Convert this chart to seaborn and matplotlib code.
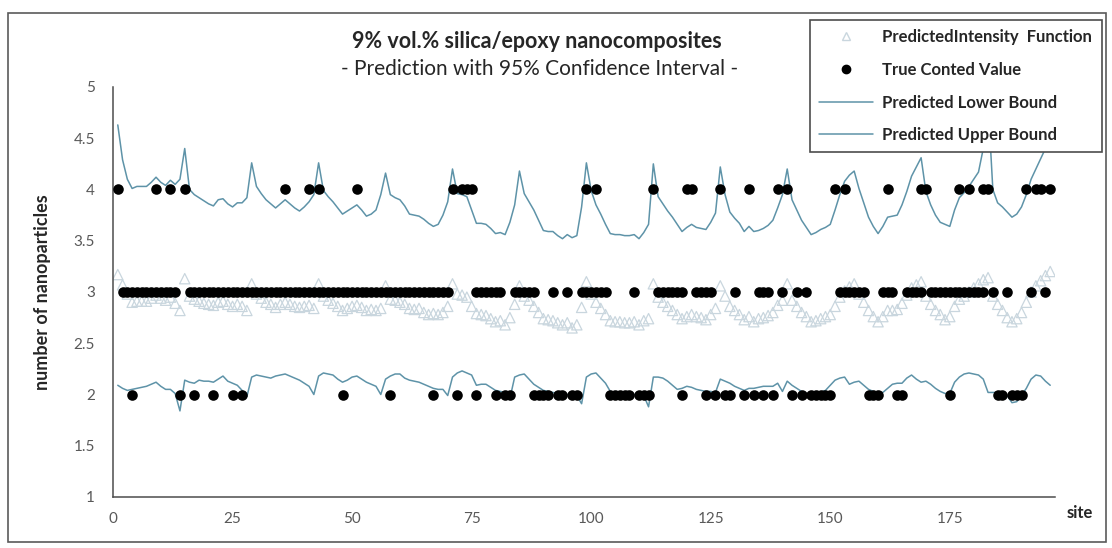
import numpy as np
import pandas as pd
import seaborn as sns
import matplotlib.pyplot as plt
from matplotlib.lines import Line2D
from matplotlib.patches import Rectangle

# ---- data ----
sites = list(range(1, 197))

upper_bound = [
    4.63, 4.29, 4.10, 4.01, 4.03, 4.03, 4.03, 4.07, 4.12, 4.07,
    4.04, 4.09, 4.05, 4.10, 4.40, 4.00, 3.95, 3.92, 3.89, 3.86,
    3.84, 3.90, 3.91, 3.86, 3.83, 3.87, 3.87, 3.92, 4.26, 4.03,
    3.96, 3.90, 3.86, 3.82, 3.86, 3.90, 3.86, 3.82, 3.79, 3.83,
    3.88, 3.95, 4.26, 3.99, 3.93, 3.88, 3.82, 3.76, 3.79, 3.82,
    3.85, 3.80, 3.74, 3.76, 3.80, 3.95, 4.16, 3.95, 3.92, 3.90,
    3.84, 3.76, 3.75, 3.74, 3.71, 3.67, 3.64, 3.66, 3.75, 3.88,
    4.20, 3.96, 3.95, 3.93, 3.80, 3.67, 3.67, 3.66, 3.62, 3.57,
    3.58, 3.56, 3.68, 3.85, 4.18, 3.96, 3.88, 3.80, 3.70, 3.60,
    3.59, 3.59, 3.55, 3.52, 3.56, 3.53, 3.55, 3.83, 4.26, 3.99,
    3.85, 3.76, 3.66, 3.57, 3.56, 3.56, 3.55, 3.55, 3.56, 3.52,
    3.58, 3.66, 4.25, 3.93, 3.86, 3.79, 3.73, 3.66, 3.59, 3.63,
    3.66, 3.63, 3.62, 3.61, 3.68, 3.77, 4.22, 3.95, 3.78, 3.72,
    3.67, 3.59, 3.64, 3.59, 3.60, 3.62, 3.65, 3.70, 3.82, 3.95,
    4.20, 3.90, 3.80, 3.70, 3.63, 3.56, 3.58, 3.61, 3.63, 3.66,
    3.80, 3.95, 4.08, 4.14, 4.18, 4.01, 3.87, 3.73, 3.64, 3.57,
    3.64, 3.73, 3.74, 3.75, 3.85, 3.98, 4.13, 4.22, 4.31, 3.98,
    3.85, 3.75, 3.68, 3.66, 3.64, 3.80, 3.92, 3.97, 4.03, 4.10,
    4.17, 4.40, 4.85, 4.00, 3.87, 3.83, 3.78, 3.73, 3.76, 3.83,
    3.95, 4.10, 4.20, 4.30, 4.40, 4.47,
]

lower_bound = [
    2.09, 2.06, 2.04, 2.05, 2.06, 2.07, 2.08, 2.10, 2.12, 2.08,
    2.05, 2.05, 2.01, 1.84, 2.14, 2.12, 2.11, 2.14, 2.13, 2.13,
    2.12, 2.15, 2.18, 2.13, 2.11, 2.09, 2.04, 1.98, 2.17, 2.19,
    2.18, 2.17, 2.16, 2.18, 2.19, 2.20, 2.18, 2.16, 2.14, 2.11,
    2.08, 2.00, 2.18, 2.21, 2.20, 2.19, 2.15, 2.12, 2.14, 2.17,
    2.18, 2.15, 2.12, 2.10, 2.08, 2.00, 2.15, 2.18, 2.20, 2.20,
    2.16, 2.14, 2.13, 2.12, 2.10, 2.08, 2.06, 2.05, 2.05, 1.99,
    2.17, 2.21, 2.23, 2.21, 2.19, 2.09, 2.10, 2.10, 2.07, 2.04,
    2.03, 2.02, 1.96, 2.17, 2.19, 2.20, 2.15, 2.10, 2.07, 2.04,
    2.03, 2.02, 2.01, 2.01, 2.00, 2.00, 1.99, 1.91, 2.17, 2.20,
    2.21, 2.16, 2.11, 2.03, 2.02, 2.02, 2.01, 2.00, 2.00, 2.00,
    1.99, 1.88, 2.17, 2.17, 2.16, 2.13, 2.09, 2.05, 2.06, 2.08,
    2.07, 2.05, 2.04, 2.03, 2.03, 2.02, 2.15, 2.13, 2.11, 2.08,
    2.06, 2.04, 2.06, 2.06, 2.07, 2.08, 2.08, 2.08, 2.11, 2.03,
    2.13, 2.09, 2.06, 2.03, 2.01, 2.00, 2.01, 2.02, 2.04, 2.09,
    2.14, 2.16, 2.17, 2.10, 2.12, 2.13, 2.09, 2.05, 2.03, 2.02,
    2.02, 2.06, 2.10, 2.11, 2.11, 2.16, 2.19, 2.15, 2.12, 2.13,
    2.10, 2.06, 2.03, 2.01, 2.01, 2.12, 2.17, 2.20, 2.21, 2.20,
    2.19, 2.15, 2.02, 2.02, 2.02, 2.01, 1.99, 1.92, 1.93, 1.99,
    2.06, 2.15, 2.19, 2.18, 2.13, 2.09,
]

predicted_intensity = [
    3.17, 3.07, 2.98, 2.90, 2.91, 2.91, 2.91, 2.94, 2.97, 2.94,
    2.92, 2.95, 2.89, 2.82, 3.13, 2.96, 2.93, 2.91, 2.89, 2.88,
    2.87, 2.90, 2.91, 2.88, 2.86, 2.88, 2.86, 2.82, 3.08, 2.98,
    2.94, 2.90, 2.88, 2.85, 2.88, 2.90, 2.88, 2.86, 2.85, 2.86,
    2.87, 2.84, 3.08, 2.96, 2.92, 2.89, 2.86, 2.82, 2.84, 2.86,
    2.87, 2.85, 2.82, 2.83, 2.82, 2.84, 3.06, 2.93, 2.92, 2.90,
    2.88, 2.84, 2.83, 2.84, 2.80, 2.78, 2.79, 2.78, 2.80, 2.86,
    3.08, 2.98, 2.97, 2.95, 2.86, 2.79, 2.78, 2.77, 2.74, 2.71,
    2.72, 2.68, 2.75, 2.88, 3.06, 2.96, 2.92, 2.86, 2.80, 2.74,
    2.73, 2.72, 2.70, 2.68, 2.70, 2.65, 2.68, 2.85, 3.10, 2.98,
    2.90, 2.84, 2.78, 2.72, 2.71, 2.71, 2.70, 2.70, 2.71, 2.68,
    2.72, 2.74, 3.08, 2.95, 2.90, 2.86, 2.82, 2.78, 2.74, 2.76,
    2.78, 2.76, 2.75, 2.73, 2.78, 2.84, 3.06, 2.96, 2.86, 2.82,
    2.78, 2.73, 2.76, 2.71, 2.74, 2.75, 2.77, 2.80, 2.87, 2.92,
    3.08, 2.92, 2.86, 2.80, 2.76, 2.71, 2.72, 2.74, 2.76, 2.78,
    2.86, 2.95, 3.01, 3.05, 3.08, 2.98, 2.90, 2.82, 2.76, 2.71,
    2.76, 2.82, 2.82, 2.83, 2.89, 2.97, 3.04, 3.07, 3.10, 2.96,
    2.88, 2.82, 2.78, 2.73, 2.76, 2.86, 2.93, 2.96, 3.00, 3.04,
    3.08, 3.12, 3.14, 2.96, 2.88, 2.82, 2.75, 2.71, 2.74, 2.80,
    2.90, 3.00, 3.06, 3.11, 3.16, 3.20,
]

# sites where the counted value was 4, 2 and 3
count4_sites = [1, 9, 12, 15, 36, 41, 43, 51, 71, 73, 74, 75, 99, 101, 113,
                120, 121, 127, 133, 139, 141, 151, 153, 162, 169, 170, 177,
                179, 182, 183, 191, 193, 194, 196]
count2_sites = [4, 14, 17, 21, 25, 27, 48, 58, 67, 72, 76, 80, 82, 83, 88, 89,
                90, 91, 93, 94, 96, 97, 104, 105, 106, 107, 108, 110, 111, 112,
                119, 124, 126, 128, 129, 132, 134, 136, 138, 142, 144, 146,
                147, 148, 149, 150, 158, 159, 160, 164, 165, 175, 185, 186,
                188, 189, 190]
count3_sites = (list(range(2, 14)) + list(range(16, 71)) + list(range(76, 82))
                + list(range(84, 89)) + [92, 95] + list(range(98, 104)) + [109]
                + list(range(114, 120)) + list(range(122, 126)) + [130, 135, 136, 137, 140, 143, 145]
                + list(range(152, 158)) + list(range(161, 164)) + list(range(166, 170))
                + list(range(171, 183)) + [184, 187, 192, 195])

# ---- tables ----
bounds = pd.DataFrame({"site": sites, "lower": lower_bound, "upper": upper_bound,
                       "intensity": predicted_intensity})
counts = pd.DataFrame({
    "site": count4_sites + count3_sites + count2_sites,
    "count": [4] * len(count4_sites) + [3] * len(count3_sites) + [2] * len(count2_sites),
})

sns.set_theme(style="white")
plt.rcParams["font.family"] = ["Lato", "DejaVu Sans"]

line_col = "#5e93a8"
tri_col = "#c9d6de"

fig = plt.figure(figsize=(11.12, 5.48), dpi=100)
ax = fig.add_axes([113 / 1112, 1 - 497 / 548, (1055 - 113) / 1112, (497 - 87) / 548])

sns.scatterplot(data=bounds, x="site", y="intensity", ax=ax, marker="^", s=55,
                facecolors="none", edgecolor=tri_col, linewidth=0.9, zorder=2)
sns.lineplot(data=bounds, x="site", y="lower", ax=ax, color=line_col, lw=1.1, zorder=3)
sns.lineplot(data=bounds, x="site", y="upper", ax=ax, color=line_col, lw=1.1, zorder=3)
sns.scatterplot(data=counts, x="site", y="count", ax=ax, color="black", s=58,
                edgecolor="black", linewidth=0, zorder=4)

ax.set_xlim(0, 197)
ax.set_ylim(1, 5)
ax.set_xticks([0, 25, 50, 75, 100, 125, 150, 175])
ax.set_yticks([1, 1.5, 2, 2.5, 3, 3.5, 4, 4.5, 5])
ax.set_yticklabels(["1", "1.5", "2", "2.5", "3", "3.5", "4", "4.5", "5"])
ax.tick_params(axis="both", colors="#595959", labelsize=11, length=5, width=1,
               direction="out", labelcolor="#595959")
ax.tick_params(axis="y", pad=8)
ax.tick_params(axis="x", pad=6)
for side in ["top", "right"]:
    ax.spines[side].set_visible(False)
for side in ["left", "bottom"]:
    ax.spines[side].set_color("#4d4d4d")
    ax.spines[side].set_linewidth(1.1)
ax.set_xlabel("")
ax.set_ylabel("number of nanoparticles", fontsize=13, fontweight="bold",
              color="#262626", labelpad=16)
ax.patch.set_alpha(0)

fig.text(1080 / 1112, 1 - 513 / 548, "site", fontsize=12, color="#262626",
         ha="center", va="center", fontweight="bold")
fig.text(537 / 1112, 1 - 42 / 548, "9% vol.% silica/epoxy nanocomposites",
         fontsize=15.5, fontweight="bold", color="#262626", ha="center", va="center")
fig.text(540 / 1112, 1 - 69 / 548, "- Prediction with 95% Confidence Interval -",
         fontsize=15, color="#262626", ha="center", va="center")

# outer chart border
fig.patches.append(Rectangle((8 / 1112, 6 / 548), 1098 / 1112, 529 / 548,
                             transform=fig.transFigure, fill=False,
                             edgecolor="#5a5a5a", lw=1.2))

handles = [
    Line2D([], [], marker="^", ls="none", markerfacecolor="none",
           markeredgecolor=tri_col, markersize=6),
    Line2D([], [], marker="o", ls="none", color="black", markersize=6),
    Line2D([], [], color=line_col, lw=1.1),
    Line2D([], [], color=line_col, lw=1.1),
]
labels = ["PredictedIntensity  Function", "True Conted Value",
          "Predicted Lower Bound", "Predicted Upper Bound"]
leg = ax.legend(handles, labels, loc="upper left",
                bbox_to_anchor=(810 / 1112, 1 - 20 / 548), bbox_transform=fig.transFigure,
                frameon=True, fancybox=False, framealpha=1, edgecolor="#4d4d4d",
                fontsize=12, handlelength=3.2, handletextpad=0.6,
                labelspacing=1.0, borderpad=0.55, borderaxespad=0)
leg.get_frame().set_linewidth(1.2)
leg.set_zorder(10)
for t in leg.get_texts():
    t.set_color("#262626")
    t.set_fontweight("bold")

fig.savefig("out.png", dpi=100)
